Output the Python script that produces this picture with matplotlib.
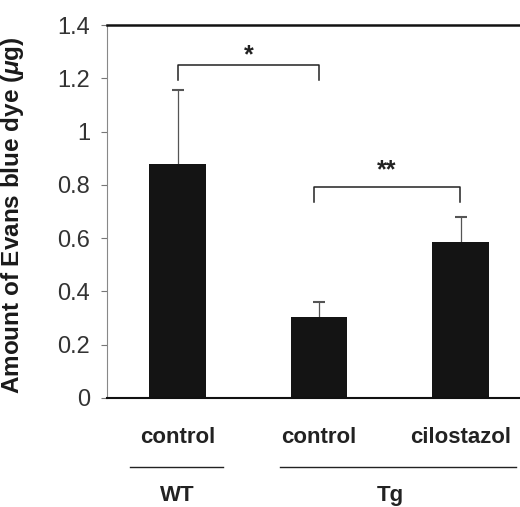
import matplotlib
matplotlib.use("Agg")
import matplotlib.pyplot as plt

categories = ["control", "control", "cilostazol"]
groups = ["WT", "Tg"]
values = [0.88, 0.305, 0.587]
errors = [0.275, 0.055, 0.093]
yticks = [0, 0.2, 0.4, 0.6, 0.8, 1.0, 1.2, 1.4]
yticklabels = ["0", "0.2", "0.4", "0.6", "0.8", "1", "1.2", "1.4"]

plt.rcParams['font.family'] = ['Liberation Sans', 'DejaVu Sans']
plt.rcParams['mathtext.fontset'] = 'custom'
plt.rcParams['mathtext.it'] = 'Liberation Sans:italic:bold'
plt.rcParams['mathtext.rm'] = 'Liberation Sans:bold'

fig = plt.figure(figsize=(5.2, 5.07), dpi=100)
ax = fig.add_axes([107/520, 1-398/507, 1-107/520, (398-25)/507])

x = [0, 1, 2]
ax.bar(x, values, width=0.40, color="#141414", zorder=2)
eb = ax.errorbar(x, values, yerr=[[0]*3, errors], fmt="none", ecolor="#555555",
                 elinewidth=0.9, capsize=4, capthick=1.5, zorder=1)
eb[1][0].set_visible(False)

ax.set_xlim(-0.5, 2.42)
ax.set_ylim(0, 1.4)
ax.set_yticks(yticks)
ax.set_yticklabels(yticklabels, fontsize=17, color="#333333")
ax.tick_params(axis="y", direction="out", length=4, width=0.8, color="#777777", pad=8)
ax.tick_params(axis="x", length=0)
ax.set_xticks([])

ax.spines["right"].set_visible(False)
ax.spines["left"].set_color("#888888")
ax.spines["left"].set_linewidth(0.8)
ax.spines["top"].set_color("#111111")
ax.spines["top"].set_linewidth(1.8)
ax.spines["bottom"].set_color("#111111")
ax.spines["bottom"].set_linewidth(1.5)

ax.set_ylabel("Amount of Evans blue dye ($\\mathit{\\mu}$g)", fontsize=17.5,
              fontweight="bold", color="#1a1a1a")
ax.yaxis.set_label_coords(-0.197, 0.49)

# significance brackets
def bracket(x0, x1, y, ydrop, label, ytext):
    ax.plot([x0, x0, x1, x1], [y - ydrop, y, y, y - ydrop], color="#222222",
            lw=1.1, clip_on=False)
    ax.text((x0 + x1) / 2, ytext, label, ha="center", va="center", fontsize=18,
            fontweight="bold", color="#222222")

bracket(0, 1, 1.25, 0.056, "*", 1.285)
bracket(0.965, 1.995, 0.791, 0.056, "**", 0.855)

# category labels
trans = ax.get_xaxis_transform()
for xi, c in zip(x, categories):
    ax.text(xi, -0.105, c, transform=trans, ha="center", va="center",
            fontsize=16, fontweight="bold", color="#222222")

# group lines and labels
ax.plot([-0.34, 0.32], [-0.185, -0.185], transform=trans, color="#222222",
        lw=1.0, clip_on=False)
ax.plot([0.72, 2.39], [-0.185, -0.185], transform=trans, color="#222222",
        lw=1.0, clip_on=False)
ax.text(0, -0.262, groups[0], transform=trans, ha="center", va="center",
        fontsize=16, fontweight="bold", color="#222222")
ax.text(1.5, -0.262, groups[1], transform=trans, ha="center", va="center",
        fontsize=16, fontweight="bold", color="#222222")

fig.savefig("out.png", dpi=100)
